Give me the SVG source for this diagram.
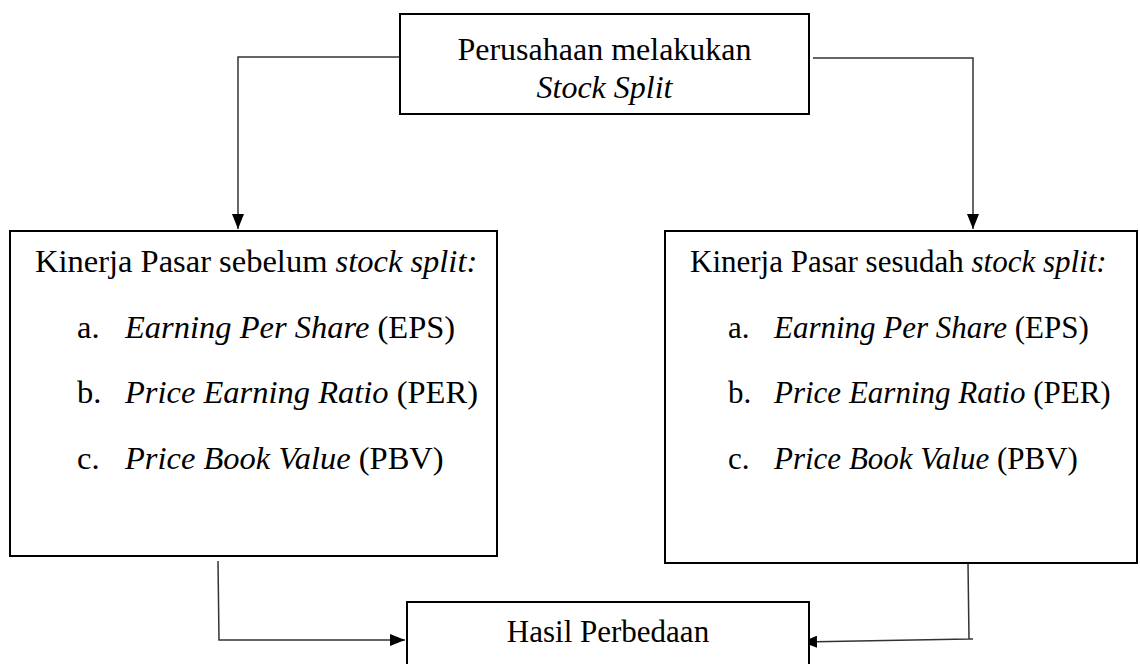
<svg xmlns="http://www.w3.org/2000/svg" width="1140" height="664" viewBox="0 0 1140 664">
<style>
.box{fill:#fff;stroke:#000;stroke-width:2}
.t{font-family:"Liberation Serif","Times New Roman",serif;font-size:31px;fill:#000}
.tl{font-size:32.5px}
.tt{font-size:32px}
.i{font-style:italic}
.c{fill:none;stroke:#333;stroke-width:1.5}
</style>
<defs>
<marker id="ah" markerUnits="userSpaceOnUse" markerWidth="15" markerHeight="12" refX="15" refY="6" orient="auto">
<path d="M0,0 L15,6 L0,12 Z" fill="#000"/>
</marker>
</defs>
<rect width="1140" height="664" fill="#fff"/>
<g id="connectors">
<polyline class="c" points="400,57 238,57 238,229" marker-end="url(#ah)"/>
<polyline class="c" points="813,58 973,58 973,229" marker-end="url(#ah)"/>
<polyline class="c" points="218,561 219,640 405,640" marker-end="url(#ah)"/>
<polyline class="c" points="968,563 969,639 973,639 969,639 802,642" marker-end="url(#ah)"/>
</g>
<g id="top">
<rect class="box" x="400" y="14" width="409" height="100"/>
<text class="t tt" x="604.5" y="60" text-anchor="middle">Perusahaan melakukan</text>
<text class="t tt i" x="604.5" y="98" text-anchor="middle">Stock Split</text>
</g>
<g id="before">
<rect class="box" x="10" y="231" width="487" height="325"/>
<text class="t tl" x="35" y="272">Kinerja Pasar sebelum <tspan class="i">stock split:</tspan></text>
<text class="t tl" x="77" y="338">a.</text>
<text class="t tl" x="125" y="338"><tspan class="i">Earning Per Share</tspan> (EPS)</text>
<text class="t tl" x="77" y="403">b.</text>
<text class="t tl" x="125" y="403"><tspan class="i">Price Earning Ratio</tspan> (PER)</text>
<text class="t tl" x="77" y="469">c.</text>
<text class="t tl" x="125" y="469"><tspan class="i">Price Book Value</tspan> (PBV)</text>
</g>
<g id="after">
<rect class="box" x="665" y="231" width="472" height="332"/>
<text class="t" x="690" y="272">Kinerja Pasar sesudah <tspan class="i">stock split:</tspan></text>
<text class="t" x="728" y="338">a.</text>
<text class="t" x="774" y="338"><tspan class="i">Earning Per Share</tspan> (EPS)</text>
<text class="t" x="728" y="403">b.</text>
<text class="t" x="774" y="403"><tspan class="i">Price Earning Ratio</tspan> (PER)</text>
<text class="t" x="728" y="469">c.</text>
<text class="t" x="774" y="469"><tspan class="i">Price Book Value</tspan> (PBV)</text>
</g>
<g id="result">
<rect class="box" x="407" y="602" width="402" height="80"/>
<text class="t" x="608" y="642" text-anchor="middle">Hasil Perbedaan</text>
</g>
</svg>
